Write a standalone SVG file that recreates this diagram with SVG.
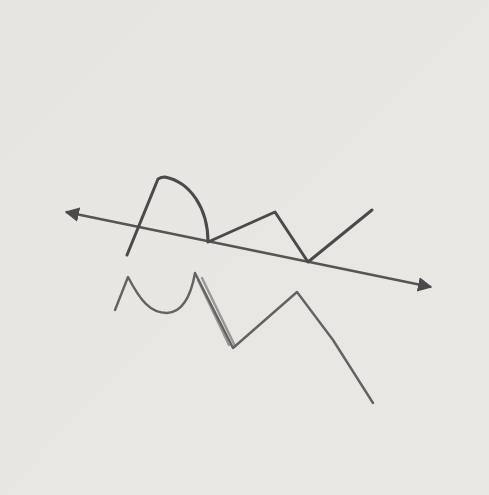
<svg xmlns="http://www.w3.org/2000/svg" width="489" height="495" viewBox="0 0 489 495">
<style>
.p{fill:none;stroke:#4a4a4a;stroke-width:3;stroke-linecap:round;stroke-linejoin:round}
.l{fill:none;stroke:#636363;stroke-width:2.4;stroke-linecap:round;stroke-linejoin:round}
</style>
<defs>
<marker id="ah" viewBox="0 0 10 10" refX="9" refY="5" markerWidth="6" markerHeight="6" orient="auto-start-reverse">
<path d="M0,0 L10,5 L0,10 z" fill="#4a4a4a"/>
</marker>
<linearGradient id="bg" x1="0" y1="0" x2="1" y2="1">
<stop offset="0" stop-color="#e7e5e1"/>
<stop offset="1" stop-color="#eae8e4"/>
</linearGradient>
</defs>
<rect width="489" height="495" fill="url(#bg)"/>
<g id="connectors">
<line x1="66" y1="212" x2="431" y2="287" stroke="#555" stroke-width="2.4" marker-start="url(#ah)" marker-end="url(#ah)"/>
</g>
<path class="p" d="M127,255 L158,179 Q161,177 165,177 C190,182 208,208 208,242 L275,212 L308,262 L372,210"/>
<path class="l" d="M115,310 L128,277 C140,300 150,313 167,313 C185,312 192,290 195,273 L233,348 L297,292 L333,340 L373,403"/>
<path class="l" d="M198,280 L229,345 M202,278 L235,346" stroke-width="1.2" opacity="0.6"/>
</svg>
